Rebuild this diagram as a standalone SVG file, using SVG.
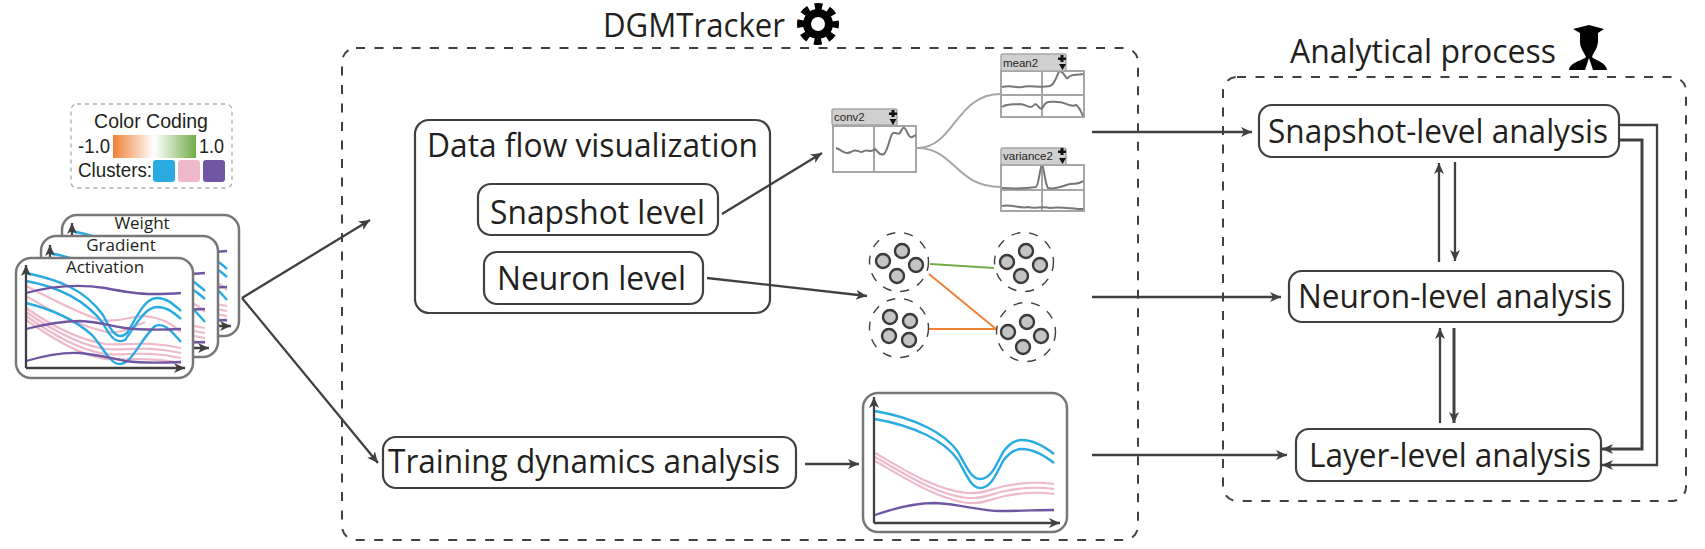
<svg xmlns="http://www.w3.org/2000/svg" xmlns:xlink="http://www.w3.org/1999/xlink" width="1705" height="549" viewBox="0 0 1705 549">
<style>
text{font-family:"Open Sans","Noto Sans","Liberation Sans",sans-serif;fill:#231f20}
.a{font-family:"Liberation Sans",Arial,sans-serif}
.lbl{font-size:32.500px}
.card{fill:#fff;stroke:#777;stroke-width:2.5}
.box{fill:#fff;stroke:#404040;stroke-width:2.2}
.outer{fill:none;stroke:#404040;stroke-width:2;stroke-dasharray:9 9.5}
.c{fill:none;stroke:#404040;stroke-width:2.3}
.c3{fill:none;stroke:#404040;stroke-width:3}
.bl{fill:none;stroke:#29abe2;stroke-width:2.4}
.pk{fill:none;stroke:#eeb9cb;stroke-width:2.2}
.pu{fill:none;stroke:#6f56a3;stroke-width:2.3}
.w{fill:#fff;stroke:#a6a6a6;stroke-width:2}
.h{fill:#d0d0d0;stroke:#a6a6a6;stroke-width:1.5}
.l{fill:none;stroke:#a6a6a6;stroke-width:2}
.t{fill:none;stroke:#777;stroke-width:2}
.ring{fill:#fff;stroke:#404040;stroke-width:1.4;stroke-dasharray:9 9}
.n{fill:#c4c4c4;stroke:#3a3a3a;stroke-width:2.4}
</style>
<defs>
<marker id="ah" markerUnits="userSpaceOnUse" markerWidth="14" markerHeight="12" refX="11" refY="5" orient="auto"><path d="M0 0L11 5L0 10L3 5Z" fill="#404040"/></marker>
<linearGradient id="grad"><stop offset="0" stop-color="#ef8235"/><stop offset=".5" stop-color="#fff"/><stop offset="1" stop-color="#70ad47"/></linearGradient>
<g id="chart">
<path class="pk" d="M26 286C50 298 75 312 100 320C120 323 130 316 145 316C160 318 170 322 181 332"/>
<path class="pk" d="M26 296C50 310 75 325 107 332C120 334 130 328 145 322"/>
<path class="pk" d="M26 308C55 328 80 340 105 344C125 346 145 340 181 348"/>
<path class="pk" d="M26 312C55 332 80 345 105 349C125 351 145 345 181 353"/>
<path class="pk" d="M26 316C55 336 80 350 105 354C125 356 145 350 181 358"/>
<path class="pk" d="M26 320C55 340 80 355 105 359C125 361 145 356 181 363"/>
<path class="bl" d="M26 273C60 280 85 290 103 315C112 333 118 341 127 333C138 315 145 298 157 298C167 298 173 304 181 311"/>
<path class="bl" d="M26 281C60 287 85 300 103 323C112 341 118 343 125 340C136 325 145 307 157 307C167 307 173 312 181 319"/>
<path class="bl" d="M26 303C55 310 75 320 92 335C105 350 110 364 120 364C132 364 140 340 155 326C165 322 172 332 181 342"/>
<path class="pu" d="M26 293C55 285 80 284 105 288C125 292 140 294 152 294C160 294 170 294 181 293"/>
<path class="pu" d="M26 329C50 323 65 321 80 321C100 322 110 326 125 328C140 330 160 330 181 329"/>
<path class="pu" d="M26 361C50 354 65 352 80 353C100 355 110 358 125 361C140 363 160 363 181 362"/>
<path class="c" d="M26 368V265" marker-end="url(#ah)"/>
<path class="c" d="M26 368H185" marker-end="url(#ah)"/>
</g>
</defs>

<g id="connectors">
<path class="c" d="M242 298L378 463" marker-end="url(#ah)"/>
<path class="c" d="M242 298L370 220" marker-end="url(#ah)"/>
<path class="c" d="M722 214L822 153" marker-end="url(#ah)"/>
<path class="c" d="M707 278L867 296" marker-end="url(#ah)"/>
<path class="c" d="M805 464H859" marker-end="url(#ah)"/>
<path class="c" d="M1092 132H1252" marker-end="url(#ah)"/>
<path class="c" d="M1092 297H1281" marker-end="url(#ah)"/>
<path class="c" d="M1092 455H1287" marker-end="url(#ah)"/>
<path class="c" d="M1439 262V163" marker-end="url(#ah)"/>
<path class="c" d="M1455 162V261" marker-end="url(#ah)"/>
<path class="c" d="M1440 423V328" marker-end="url(#ah)"/>
<path class="c3" d="M1454 328V423" marker-end="url(#ah)"/>
<path class="c" d="M1620 125H1657V465H1602" marker-end="url(#ah)"/>
<path class="c3" d="M1620 140H1642V449H1602" marker-end="url(#ah)"/>
<path class="l" d="M917 148C955 148 955 94 1001 94"/>
<path class="l" d="M917 148C955 148 955 187 1001 187"/>
<path d="M930 264L994 268" fill="none" stroke="#70ad47" stroke-width="2"/>
<path d="M929 274L996 329" fill="none" stroke="#ef8235" stroke-width="2"/>
<path d="M929 329H996" fill="none" stroke="#ef8235" stroke-width="2"/>
</g>

<g id="dgmtracker">
<rect class="outer" x="342" y="48" width="796" height="492" rx="14"/>
<text x="603" y="37" font-size="33.500" textLength="182" lengthAdjust="spacingAndGlyphs">DGMTracker</text>
<g fill="none" stroke="#000"><circle cx="818" cy="24" r="11" stroke-width="8"/><circle cx="818" cy="24" r="17.500" stroke-width="7" stroke-dasharray="7.500 6.240" stroke-dashoffset="3.750"/></g>
</g>

<g id="analytical-process">
<rect class="outer" x="1223" y="77" width="463" height="424" rx="14"/>
<text x="1290" y="63" font-size="33.500" textLength="266" lengthAdjust="spacingAndGlyphs">Analytical process</text>
<path d="M1573 29L1589 25L1604 29L1598 33V42C1597 50 1593 53 1592 57C1596 61 1606 62 1607 70H1593L1589 58L1585 70H1569C1570 62 1582 61 1586 57C1584 52 1580 48 1580 42V33Z" fill="#000"/>
</g>

<g id="legend">
<rect x="71" y="104" width="161" height="84" rx="6" fill="none" stroke="#aaa" stroke-width="1.3" stroke-dasharray="4 4"/>
<text class="a" x="151" y="128" font-size="19.500" text-anchor="middle">Color Coding</text>
<rect x="113" y="135" width="83" height="23" fill="url(#grad)"/>
<text class="a" x="78" y="153" font-size="19.500" textLength="32" lengthAdjust="spacingAndGlyphs">-1.0</text>
<text class="a" x="199" y="153" font-size="19.500" textLength="25" lengthAdjust="spacingAndGlyphs">1.0</text>
<text class="a" x="78" y="177" font-size="19.500" textLength="74" lengthAdjust="spacingAndGlyphs">Clusters:</text>
<rect x="153" y="160" width="22" height="22" rx="3" fill="#29abe2"/>
<rect x="178" y="160" width="22" height="22" rx="3" fill="#eeb9cb"/>
<rect x="203" y="160" width="22" height="22" rx="3" fill="#6f56a3"/>
</g>

<g id="card-weight">
<rect class="card" x="62" y="215" width="177" height="121" rx="15"/>
<use xlink:href="#chart" href="#chart" transform="translate(46 -42)"/>
<text x="142" y="229" font-size="17" text-anchor="middle">Weight</text>
</g>
<g id="card-gradient">
<rect class="card" x="41" y="236" width="177" height="121" rx="15"/>
<use xlink:href="#chart" href="#chart" transform="translate(24 -20)"/>
<text x="121" y="251" font-size="17" text-anchor="middle">Gradient</text>
</g>
<g id="card-activation">
<rect class="card" x="16" y="258" width="177" height="120" rx="15"/>
<use xlink:href="#chart" href="#chart"/>
<text x="105" y="273" font-size="17" text-anchor="middle">Activation</text>
</g>

<g id="data-flow">
<rect x="415" y="120" width="355" height="193" rx="14" fill="none" stroke="#404040" stroke-width="2.200"/>
<text class="lbl" x="427" y="157" textLength="331" lengthAdjust="spacingAndGlyphs">Data flow visualization</text>
</g>
<g id="snapshot-level">
<rect class="box" x="478" y="184" width="240" height="51" rx="13"/>
<text class="lbl" x="490" y="224" textLength="215" lengthAdjust="spacingAndGlyphs">Snapshot level</text>
</g>
<g id="neuron-level">
<rect class="box" x="484" y="252" width="219" height="52" rx="13"/>
<text class="lbl" x="497" y="290" textLength="189" lengthAdjust="spacingAndGlyphs">Neuron level</text>
</g>
<g id="training-dynamics">
<rect class="box" x="383" y="437" width="413" height="51" rx="13"/>
<text class="lbl" x="388" y="473" textLength="392" lengthAdjust="spacingAndGlyphs">Training dynamics analysis</text>
</g>

<g id="widget-conv2">
<rect class="w" x="833" y="126" width="83" height="46"/>
<path class="l" d="M874 126V172"/>
<path d="M836 148C842 150 845 155 851 152C856 148 858 152 862 152C868 148 870 154 875 149C878 152 880 156 884 154C888 150 889 140 892 134C895 130 897 136 900 133C904 124 905 128 908 134C911 140 913 136 916 135" fill="none" stroke="#777" stroke-width="2"/>
<rect class="h" x="832" y="109" width="65" height="16" rx="2"/>
<text class="a" x="834" y="121" font-size="11.500">conv2</text>
<path d="M891.500 110h3v2.500h2.500v2.500h-2.500v2h-3v-2h-2.500v-2.500h2.500zM889.500 119h7l-3.500 6z" fill="#111"/>
</g>
<g id="widget-mean2">
<rect class="w" x="1001" y="71" width="83" height="46"/>
<path class="l" d="M1042 71V117M1001 95H1084"/>
<path class="t" d="M1002 87C1012 85 1015 88 1022 87C1030 85 1040 88 1050 86C1056 84 1058 70 1060 71C1064 72 1066 80 1068 78C1072 73 1076 76 1083 74"/>
<path class="t" d="M1002 107C1008 103 1014 105 1020 104C1026 104 1030 110 1034 105C1037 101 1040 113 1043 107C1046 100 1050 102 1058 102C1066 102 1070 108 1076 105C1079 106 1081 112 1083 116"/>
<rect class="h" x="1001" y="54" width="65" height="17" rx="2"/>
<text class="a" x="1003" y="67" font-size="11.500">mean2</text>
<path d="M1060.500 55h3v2.500h2.500v2.500h-2.500v2h-3v-2h-2.500v-2.500h2.500zM1059 64h7l-3.500 6z" fill="#111"/>
</g>
<g id="widget-variance2">
<rect class="w" x="1001" y="165" width="83" height="46"/>
<path class="l" d="M1042 165V211M1001 190H1084"/>
<path class="t" d="M1002 188C1020 189 1030 188 1036 187C1039 185 1040 166 1042 165C1044 166 1045 185 1048 188C1055 190 1062 186 1070 184C1075 183 1078 185 1083 181"/>
<path class="t" d="M1002 206C1012 204 1020 209 1028 207C1035 209 1042 206 1050 208C1060 206 1072 209 1083 209"/>
<rect class="h" x="1001" y="148" width="65" height="17" rx="2"/>
<text class="a" x="1003" y="160" font-size="11.500">variance2</text>
<path d="M1060.500 148h3v2.500h2.500v2.500h-2.500v2h-3v-2h-2.500v-2.500h2.500zM1059 158h7l-3.500 6z" fill="#111"/>
</g>

<g id="cluster-a"><circle class="ring" cx="899" cy="262" r="29.500"/><circle class="n" cx="883" cy="261" r="7"/><circle class="n" cx="902" cy="251" r="7"/><circle class="n" cx="916" cy="265" r="7"/><circle class="n" cx="897" cy="276" r="7"/></g>
<g id="cluster-b"><circle class="ring" cx="899" cy="328" r="29.500"/><circle class="n" cx="890" cy="317" r="7"/><circle class="n" cx="910" cy="321" r="7"/><circle class="n" cx="889" cy="336" r="7"/><circle class="n" cx="909" cy="340" r="7"/></g>
<g id="cluster-c"><circle class="ring" cx="1024" cy="262" r="29.500"/><circle class="n" cx="1007" cy="262" r="7"/><circle class="n" cx="1026" cy="251" r="7"/><circle class="n" cx="1040" cy="265" r="7"/><circle class="n" cx="1021" cy="276" r="7"/></g>
<g id="cluster-d"><circle class="ring" cx="1026" cy="332" r="29.500"/><circle class="n" cx="1008" cy="332" r="7"/><circle class="n" cx="1027" cy="322" r="7"/><circle class="n" cx="1041" cy="336" r="7"/><circle class="n" cx="1023" cy="347" r="7"/></g>

<g id="line-chart">
<rect class="card" x="863" y="393" width="204" height="139" rx="15"/>
<path class="pk" d="M875 453C905 470 935 490 967 493C985 494 990 489 1005 486C1025 482 1040 482 1054 484"/>
<path class="pk" d="M875 457C905 474 935 494 967 498C985 499 990 494 1005 491C1025 487 1040 487 1054 489"/>
<path class="pk" d="M875 461C905 478 935 498 967 503C985 504 990 499 1005 496C1025 492 1040 492 1054 494"/>
<path class="bl" d="M875 411C915 418 945 433 958 452C968 470 972 479 980 479C990 479 995 468 1003 452C1010 443 1015 440 1022 440C1034 440 1045 447 1054 454"/>
<path class="bl" d="M875 419C915 426 945 441 958 460C968 478 972 488 980 488C990 488 995 477 1003 461C1010 452 1015 449 1022 449C1034 449 1045 456 1054 463"/>
<path class="pu" d="M875 515C895 508 915 503 935 503C960 504 980 511 1000 511C1020 511 1040 510 1054 510"/>
<path class="c" d="M874 523V397" marker-end="url(#ah)"/>
<path class="c" d="M874 523H1060" marker-end="url(#ah)"/>
</g>

<g id="snapshot-analysis">
<rect class="box" x="1259" y="105" width="360" height="52" rx="13"/>
<text class="lbl" x="1268" y="143" textLength="340" lengthAdjust="spacingAndGlyphs">Snapshot-level analysis</text>
</g>
<g id="neuron-analysis">
<rect class="box" x="1289" y="271" width="334" height="51" rx="13"/>
<text class="lbl" x="1298" y="308" textLength="314" lengthAdjust="spacingAndGlyphs">Neuron-level analysis</text>
</g>
<g id="layer-analysis">
<rect class="box" x="1296" y="429" width="305" height="52" rx="13"/>
<text class="lbl" x="1309" y="467" textLength="282" lengthAdjust="spacingAndGlyphs">Layer-level analysis</text>
</g>
</svg>
